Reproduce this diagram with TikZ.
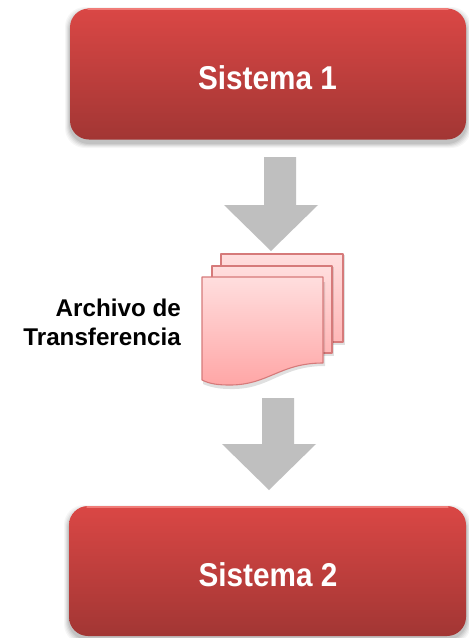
\documentclass[tikz,border=0pt]{standalone}
\usepackage{fontspec}
\setmainfont{Liberation Sans}
\definecolor{boxtop}{HTML}{DA4745}
\definecolor{boxbot}{HTML}{A23634}
\definecolor{boxedge}{HTML}{F07C78}
\definecolor{arrowgray}{HTML}{BFBFBF}
\definecolor{docline}{HTML}{D67A7A}
\definecolor{doctop}{HTML}{FFDEDE}
\definecolor{docbot}{HTML}{FFA6A6}
\tikzset{
  sysbox/.style={minimum width=396pt,minimum height=131pt,rounded corners=19pt,inner sep=0pt,
    top color=boxtop,bottom color=boxbot,draw=none},
  systext/.style={text=white,font=\bfseries\fontsize{33}{36}\selectfont},
  grayarrow/.style={fill=arrowgray,draw=none},
  docsheet/.style={draw=docline,line width=1.1pt,line join=round},
  doclabel/.style={text=black,align=right,font=\bfseries\fontsize{24.2}{29}\selectfont,inner sep=0pt}
}
\begin{document}
\begin{tikzpicture}[x=1pt,y=-1pt]
\useasboundingbox (0,0) rectangle (469,638);
\fill[white] (0,0) rectangle (469,638);
% soft shadows
\foreach \s/\o in {5/0.035,4/0.04,3/0.05,2/0.06,1/0.07}{
  \fill[black,opacity=\o,rounded corners=20pt] (70-\s,12-\s) rectangle (466+\s,143+\s);
  \fill[black,opacity=\o,rounded corners=20pt] (69-\s,510-\s) rectangle (466+\s,639+\s);
}
% boxes
\node[sysbox] (s1) at (268,74) {};
\node[sysbox,minimum height=130pt,minimum width=397pt] (s2) at (267.5,571) {};
\draw[boxedge,line width=1.4pt,line cap=round] (88,9) -- (448,9);
\draw[boxedge,line width=1.4pt,line cap=round] (87,507) -- (448,507);
\node[systext] (t1) at (267.5,78) {\addfontfeature{FakeStretch=0.9}Sistema 1};
\node[systext] (t2) at (268,575) {\addfontfeature{FakeStretch=0.9}Sistema 2};
% arrows
\fill[grayarrow] (264,157) -- (296,157) -- (296,205) -- (318,205) -- (271,251) -- (224,205) -- (264,205) -- cycle;
\fill[grayarrow] (262,398) -- (294,398) -- (294,444) -- (316,444) -- (269,490) -- (222,444) -- (262,444) -- cycle;
% document stack
\foreach \a/\b/\c/\d in {221/254/343/342,212/266/332/353}{
  \fill[black,opacity=0.12] (\a+1,\b+1) rectangle (\c+2,\d+3);
  \path[docsheet,top color=doctop,bottom color=docbot!70!doctop] (\a,\b) rectangle (\c,\d);
}
\fill[black,opacity=0.12] (204,282) -- (325,282) -- (325,366) .. controls (280,366) and (270,390) .. (230,389) .. controls (218,389) and (210,387) .. (203,384) -- cycle;
\path[docsheet,top color=doctop,bottom color=docbot]
  (202,277) -- (323,277) -- (323,363) .. controls (280,363) and (268,385) .. (230,385) .. controls (218,385) and (210,384) .. (202,380) -- cycle;
\node[doclabel,anchor=east] (lab) at (181,322) {Archivo de\\Transferencia};
\end{tikzpicture}
\end{document}
